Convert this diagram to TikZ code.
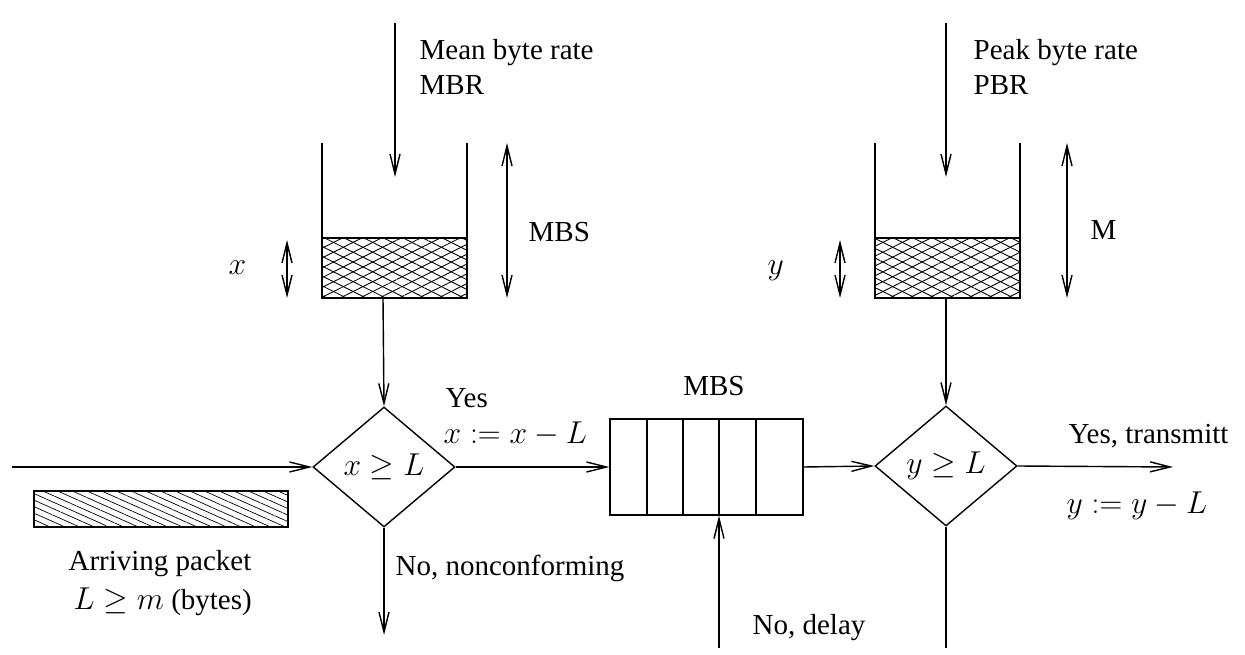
\RequirePackage{fix-cm}
\documentclass[tikz,border=0pt]{standalone}
\usepackage{amsmath,amssymb}
\usepackage{fontspec}
\setmainfont{Liberation Serif}
\usetikzlibrary{arrows.meta,positioning,shapes.geometric,patterns.meta}
\DeclareMathSizes{16.5}{18}{12.5}{9}
\tikzset{
  arr/.style={-{Straight Barb[length=4mm,width=2mm]}},
  dbl/.style={{Straight Barb[length=4mm,width=2mm]}-{Straight Barb[length=4mm,width=2mm]}},
  dec/.style={diamond,draw,aspect=1.18,minimum width=2.84cm,minimum height=2.4cm,inner sep=0pt},
  lbl/.style={anchor=base west,inner sep=0pt},
  mesh/.style={pattern={Lines[angle=26.6,distance=5pt,line width=0.5pt]}},
  mesh2/.style={pattern={Lines[angle=-26.6,distance=5pt,line width=0.5pt]}},
}

\begin{document}
\begin{tikzpicture}[x=0.02cm,y=-0.02cm,line width=0.8pt,font=\fontsize{16.5}{20}\selectfont]
  \useasboundingbox (0,0) rectangle (1245,655);
  % token buckets
  \foreach \l/\r in {322/467,875/1020} {
    \fill[mesh] (\l,238) rectangle (\r,298);
    \fill[mesh2] (\l,238) rectangle (\r,298);
    \draw (\l,238) -- (\r,238);
    \draw (\l,143) -- (\l,298) -- (\r,298) -- (\r,143);
  }
  \coordinate (in1) at (395,23); \coordinate (lv1) at (395,177);
  \coordinate (in2) at (946,23); \coordinate (lv2) at (946,177);
  \coordinate (b1) at (383,298); \coordinate (b2) at (946,298);
  \draw[arr] (in1) -- (lv1);
  \draw[arr] (in2) -- (lv2);
  \node[lbl] (mbr1) at (419,60) {Mean byte rate};
  \node[lbl] (mbr2) at (419,95) {MBR};
  \node[lbl] (pbr1) at (973,60) {Peak byte rate};
  \node[lbl] (pbr2) at (973,95) {PBR};
  % sizes
  \draw[dbl] (287,240) -- (287,298);
  \draw[dbl] (507,143) -- (507,298);
  \draw[dbl] (840,240) -- (840,298);
  \draw[dbl] (1067,143) -- (1067,298);
  \node[lbl] (xl) at (228,275) {$x$};
  \node[lbl] (yl) at (767,275) {$y$};
  \node[lbl] (mbs) at (528,242) {MBS};
  \node[lbl] (ml) at (1090,240) {M};
  % decisions and queue
  \node[dec] (d1) at (384,467) {$x\ge L$\hspace{4mm}};
  \node[dec] (d2) at (946,466) {$y\ge L$\hspace{2mm}};
  \node[draw,minimum width=3.86cm,minimum height=1.92cm,inner sep=0pt] (q) at (706.5,467) {};
  \foreach \d in {647,683,719,756} \draw (\d,419) -- (\d,515);
  \node[anchor=base] (qm) at (714,396) {MBS};
  \coordinate (src) at (12,467);
  \coordinate (nc) at (384,635);
  \coordinate (dly) at (719,648);
  \coordinate (out) at (1173,467);
  \coordinate (lo) at (946,648);
  \draw[arr] (b1) -- (d1.north);
  \draw[arr] (b2) -- (d2.north);
  \draw[arr] (src) -- (d1.west);
  \draw[arr] (d1.east) -- (q.west);
  \draw[arr] (q.east) -- (d2.west);
  \draw[arr] (d2.east) -- (out);
  \draw[arr] (d1.south) -- (nc);
  \draw[arr] (dly) -- (dly |- q.south);
  \draw (d2.south) -- (lo);
  % packet
  \draw[pattern={Lines[angle=-24,distance=3.4pt,line width=0.4pt]}] (34,491) rectangle (288,527);
  \node[anchor=base,inner sep=0pt] (ap) at (160,570) {Arriving packet};
  \node[lbl] (lm) at (73,609) {$L\ge m$ (bytes)};
  % labels
  \node[lbl] (yes) at (445,407) {Yes};
  \node[lbl] (xs) at (443,443) {$x:=x-L$};
  \node[lbl] (no1) at (395,575) {No, nonconforming};
  \node[lbl] (no2) at (752,634) {No, delay};
  \node[lbl] (ytx) at (1068,443) {Yes, transmitt};
  \node[lbl] (ys) at (1066,513) {$y:=y-L$};
\end{tikzpicture}
\end{document}
